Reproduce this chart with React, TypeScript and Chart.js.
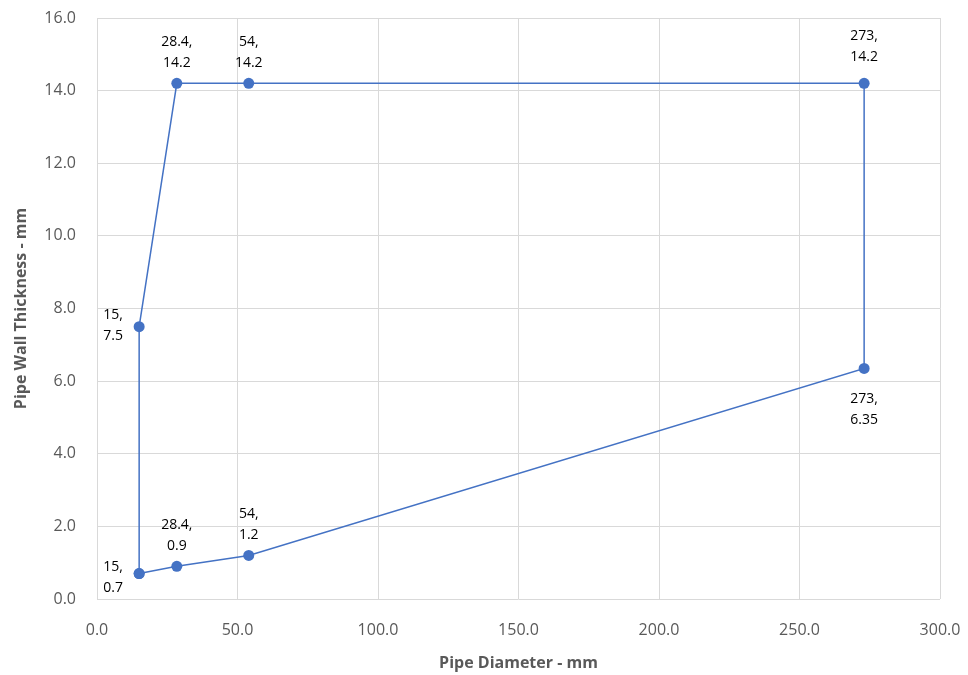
import React, { useEffect, useRef } from "react";
import { Chart, registerables } from "chart.js";

Chart.register(...registerables);

const diameters = [15, 28.4, 54, 273, 273, 54, 28.4, 15, 15];
const thicknesses = [0.7, 0.9, 1.2, 6.35, 14.2, 14.2, 14.2, 7.5, 0.7];
const labelXText = ["15", "28.4", "54", "273", "273", "54", "28.4", "15", ""];
const labelYText = ["0.7", "0.9", "1.2", "6.35", "14.2", "14.2", "14.2", "7.5", ""];
const labelSide = ["left", "top", "top", "bottom", "top", "top", "top", "left", "none"];

const FONT = "'Open Sans', 'Liberation Sans', sans-serif";

const labelPlugin = {
  id: "pointLabels",
  afterDatasetsDraw(chart: any) {
    const ctx = chart.ctx;
    const meta = chart.getDatasetMeta(0);
    ctx.save();
    ctx.font = "14px " + FONT;
    ctx.fillStyle = "#000000";
    ctx.textBaseline = "middle";
    meta.data.forEach((pt: any, i: number) => {
      const side = labelSide[i];
      if (side === "none") return;
      const l1 = labelXText[i] + ",";
      const l2 = labelYText[i];
      let x = pt.x;
      let y1 = pt.y;
      ctx.textAlign = "center";
      if (side === "top") {
        const extra = i === 4 ? 6 : 0;
        y1 = pt.y - 41 - extra;
      } else if (side === "bottom") {
        y1 = pt.y + 31;
      } else if (side === "left") {
        x = pt.x - 26;
        y1 = pt.y - 10;
        if (i === 0) y1 = pt.y - 7;
        if (i === 7) y1 = pt.y - 12;
      }
      ctx.fillText(l1, x, y1);
      ctx.fillText(l2, x, y1 + 21);
    });
    ctx.restore();
  },
};

function zeroPad(s: any) {
  s.paddingTop = 0;
  s.paddingBottom = 0;
  s.paddingLeft = 0;
  s.paddingRight = 0;
}

export default function App() {
  const ref = useRef<HTMLCanvasElement | null>(null);
  useEffect(() => {
    if (!ref.current) return;
    const chart = new Chart(ref.current, {
      type: "scatter",
      data: {
        datasets: [
          {
            data: diameters.map((x, i) => ({ x, y: thicknesses[i] })),
            showLine: true,
            borderColor: "#4472c4",
            backgroundColor: "#4472c4",
            borderWidth: 1.5,
            pointRadius: 5.5,
            pointHoverRadius: 5.5,
            pointBorderWidth: 0,
          },
        ],
      },
      plugins: [labelPlugin],
      options: {
        animation: false,
        responsive: false,
        maintainAspectRatio: false,
        layout: { padding: { top: 18, right: 28, left: 0, bottom: 0 } },
        plugins: {
          legend: { display: false },
          tooltip: { enabled: false },
          title: { display: false },
        },
        scales: {
          x: {
            type: "linear",
            min: 0,
            max: 300,
            afterFit: (s: any) => {
              s.height = 76;
              zeroPad(s);
            },
            ticks: {
              stepSize: 50,
              color: "#595959",
              font: { size: 16, family: FONT },
              padding: 22,
              callback: (v: any) => Number(v).toFixed(1),
            },
            grid: { color: "#d9d9d9", drawTicks: false, lineWidth: 1 },
            border: { display: false },
            title: {
              display: true,
              text: "Pipe Diameter - mm",
              color: "#595959",
              font: { size: 16, weight: "bold", family: FONT },
              padding: { top: 4, bottom: 2 },
            },
          },
          y: {
            type: "linear",
            min: 0,
            max: 16,
            afterFit: (s: any) => {
              s.width = 97;
              zeroPad(s);
            },
            ticks: {
              stepSize: 2,
              color: "#595959",
              font: { size: 16, family: FONT },
              padding: 21,
              callback: (v: any) => Number(v).toFixed(1),
            },
            grid: { color: "#d9d9d9", drawTicks: false, lineWidth: 1 },
            border: { display: false },
            title: {
              display: true,
              text: "Pipe Wall Thickness - mm",
              color: "#595959",
              font: { size: 16, weight: "bold", family: FONT },
              padding: { top: 12, bottom: 0 },
            },
          },
        },
      },
    });
    return () => chart.destroy();
  }, []);
  return (
    <div style={{ position: "fixed", left: 0, top: 0, width: 968, height: 675, background: "#ffffff" }}>
      <canvas ref={ref} width={968} height={675} style={{ display: "block" }} />
    </div>
  );
}
